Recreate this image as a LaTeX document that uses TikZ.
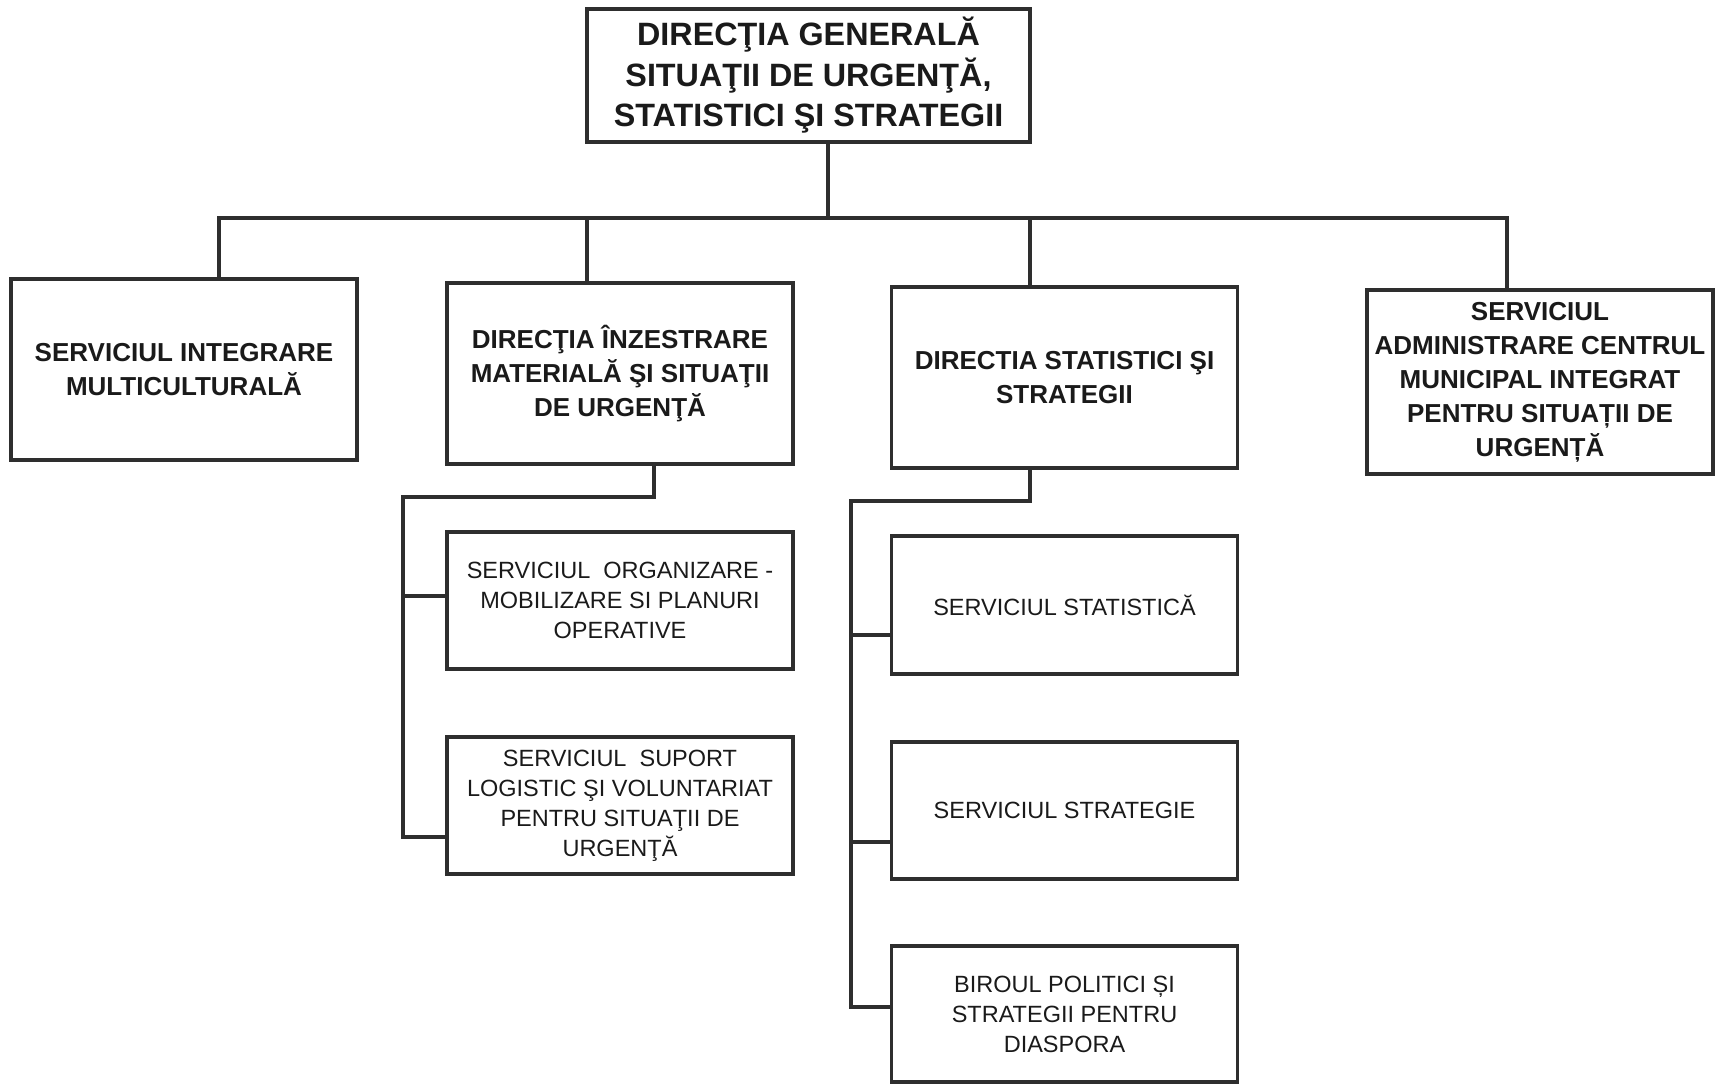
\documentclass[tikz,border=0pt]{standalone}
\usepackage{fontspec}
\setmainfont{Liberation Sans}
\definecolor{ln}{HTML}{2E2E2E}
\definecolor{txt}{HTML}{1A1A1A}
\begin{document}
\begin{tikzpicture}[x=1pt,y=-1pt]
\tikzset{
 box/.style={draw=ln, line width=3.5pt, inner sep=0pt, align=center, text=txt},
 lvlzero/.style={box, font=\bfseries\fontsize{32.3}{40.5}\selectfont},
 lvlone/.style={box, font=\bfseries\fontsize{26}{34}\selectfont, minimum width=346pt, minimum height=181pt},
 lvltwo/.style={box, font=\fontsize{23.5}{30}\selectfont, minimum width=346pt, minimum height=137pt},
 conn/.style={draw=ln, line width=3.5pt}
}
\useasboundingbox (0,0) rectangle (1716,1085);
\fill[white] (0,0) rectangle (1716,1085);

\node[lvlzero, minimum width=443pt, minimum height=133pt] (top) at (808.5,75.5) {DIRECŢIA GENERALĂ\\SITUAŢII DE URGENŢĂ,\\STATISTICI ŞI STRATEGII};

\node[lvlone] (b1) at (184,369.5) {SERVICIUL INTEGRARE\\MULTICULTURALĂ};
\node[lvlone] (b2) at (620,373.5) {DIRECŢIA ÎNZESTRARE\\MATERIALĂ ŞI SITUAŢII\\DE URGENŢĂ};
\node[lvlone] (b3) at (1064.5,377.5) {DIRECTIA STATISTICI ŞI\\STRATEGII};
\node[lvlone, minimum height=184pt] (b4) at (1540,382) {SERVICIUL\\ADMINISTRARE CENTRUL\\MUNICIPAL INTEGRAT\\PENTRU SITUAȚII DE\\URGENȚĂ};

\node[lvltwo] (s1) at (620,600.5) {SERVICIUL~~ORGANIZARE -\\MOBILIZARE SI PLANURI\\OPERATIVE};
\node[lvltwo] (s2) at (620,805.5) {SERVICIUL~~SUPORT\\LOGISTIC ŞI VOLUNTARIAT\\PENTRU SITUAŢII DE\\URGENŢĂ};
\node[lvltwo, minimum height=138pt] (s3) at (1064.5,605) {SERVICIUL STATISTICĂ};
\node[lvltwo] (s4) at (1064.5,810.5) {SERVICIUL STRATEGIE};
\node[lvltwo, minimum height=136pt] (s5) at (1064.5,1014) {BIROUL POLITICI ȘI\\STRATEGII PENTRU\\DIASPORA};

% top bus
\coordinate (bus0) at (828,218);
\coordinate (j1) at (219,218);
\coordinate (j2) at (587,218);
\coordinate (j3) at (1030,218);
\coordinate (j4) at (1507,218);
\draw[conn] (top.south -| bus0) -- (bus0);
\draw[conn] (j1 |- b1.north) -- (j1) -- (j4) -- (j4 |- b4.north);
\draw[conn] (j2 |- b2.north) -- (j2);
\draw[conn] (j3 |- b3.north) -- (j3);

% column 2
\coordinate (k1) at (654,497);
\coordinate (k2) at (403,497);
\coordinate (k3) at (403,596);
\coordinate (k4) at (403,837);
\draw[conn] (k1 |- b2.south) -- (k1) -- (k2) -- (k4) -- (k4 -| s2.west);
\draw[conn] (k3) -- (k3 -| s1.west);

% column 3
\coordinate (m1) at (1030,501);
\coordinate (m2) at (851,501);
\coordinate (m3) at (851,635);
\coordinate (m4) at (851,842);
\coordinate (m5) at (851,1007);
\draw[conn] (m1 |- b3.south) -- (m1) -- (m2) -- (m5) -- (m5 -| s5.west);
\draw[conn] (m3) -- (m3 -| s3.west);
\draw[conn] (m4) -- (m4 -| s4.west);
\end{tikzpicture}
\end{document}
